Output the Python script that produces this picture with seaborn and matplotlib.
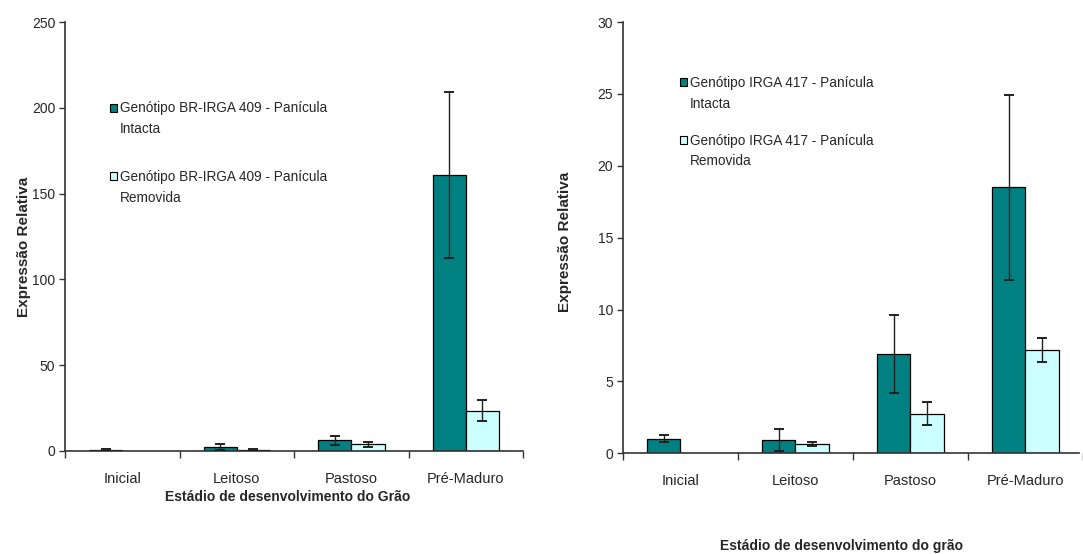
import matplotlib
matplotlib.use("Agg")
import matplotlib.pyplot as plt
import seaborn as sns
import pandas as pd
import numpy as np
from matplotlib.patches import Patch, Rectangle
from matplotlib.legend_handler import HandlerPatch

sns.set_style("white")
plt.rcParams['font.family'] = ['Liberation Sans', 'DejaVu Sans']

stages = ["Inicial", "Leitoso", "Pastoso", "Pré-Maduro"]

# Left chart: BR-IRGA 409
left_series = ["Genótipo BR-IRGA 409 - Panícula\nIntacta", "Genótipo BR-IRGA 409 - Panícula\nRemovida"]
left_intact = [0.8, 2.3, 6.2, 161.0]
left_intact_err = [0.4, 1.9, 2.6, 48.5]
left_removed = [np.nan, 0.8, 4.0, 23.5]
left_removed_err = [np.nan, 0.3, 1.5, 6.0]

# Right chart: IRGA 417
right_series = ["Genótipo IRGA 417 - Panícula\nIntacta", "Genótipo IRGA 417 - Panícula\nRemovida"]
right_intact = [1.0, 0.9, 6.9, 18.5]
right_intact_err = [0.25, 0.75, 2.7, 6.45]
right_removed = [np.nan, 0.65, 2.75, 7.2]
right_removed_err = [np.nan, 0.15, 0.8, 0.85]

colors = ["#008080", "#CCFFFF"]


def top_patch(legend, orig_handle, xdescent, ydescent, width, height, fontsize):
    return Rectangle((-xdescent, -ydescent + 8.5), width, height)


def draw(ax, series, intact, ierr, removed, rerr, ymax, ystep, xmax):
    df = pd.DataFrame({
        "stage": stages * 2,
        "serie": [series[0]] * 4 + [series[1]] * 4,
        "value": list(intact) + list(removed),
    })
    sns.barplot(data=df, x="stage", y="value", hue="serie", order=stages,
                hue_order=series, palette=colors, saturation=1, width=0.58, gap=0,
                edgecolor="black", linewidth=0.9, errorbar=None, ax=ax,
                legend=False)
    errs = {series[0]: ierr, series[1]: rerr}
    for ci, s in enumerate(series):
        cont = ax.containers[ci]
        for bar in cont:
            xc = bar.get_x() + bar.get_width() / 2
            j = int(round(xc))
            e = errs[s][j]
            if np.isnan(e) or np.isnan(bar.get_height()):
                continue
            ax.errorbar(xc, bar.get_height(), yerr=e, fmt="none", ecolor="#202020",
                        elinewidth=1.0, capsize=3.5, capthick=1.4, zorder=5)
    ax.set_ylim(0, ymax)
    ax.set_xlim(-0.5, xmax)
    ax.set_yticks(np.arange(0, ymax + 0.001, ystep))
    ax.set_xticks([-0.5, 0.5, 1.5, 2.5, 3.5])
    ax.set_xticklabels([])
    ax.set_xticks(range(4), minor=True)
    ax.set_xticklabels(stages, minor=True)
    ax.tick_params(axis="x", which="major", direction="out", length=5, width=1, color="#333333", bottom=True)
    ax.tick_params(axis="x", which="minor", length=0, pad=15, labelsize=10.5)
    ax.tick_params(axis="y", direction="out", length=4, width=1, color="#333333", left=True, labelsize=10, pad=3)
    for sp in ["top", "right"]:
        ax.spines[sp].set_visible(False)
    for sp in ["left", "bottom"]:
        ax.spines[sp].set_color("#333333")
        ax.spines[sp].set_linewidth(1.2)
    ax.set_xlabel("")
    ax.set_ylabel("Expressão Relativa", fontsize=11, fontweight="bold")
    handles = [Patch(facecolor=colors[0], edgecolor="black", linewidth=0.8, label=series[0]),
               Patch(facecolor=colors[1], edgecolor="black", linewidth=0.8, label=series[1])]
    return handles


fig = plt.figure(figsize=(10.83, 5.54), dpi=100)
ax1 = fig.add_axes([0.060, 0.186, 0.423, 0.774])
ax2 = fig.add_axes([0.575, 0.182, 0.425, 0.778])

h1 = draw(ax1, left_series, left_intact, left_intact_err, left_removed, left_removed_err, 250, 50, 3.5)
h2 = draw(ax2, right_series, right_intact, right_intact_err, right_removed, right_removed_err, 30, 5, 3.466)
ax2.spines["bottom"].set_bounds(-0.5, 3.466)
ax1.yaxis.set_label_coords(-0.074, 0.475)
ax2.yaxis.set_label_coords(-0.111, 0.49)

hmap = {Patch: HandlerPatch(patch_func=top_patch)}
leg1 = ax1.legend(handles=h1, loc="upper left", bbox_to_anchor=(0.098, 0.815), frameon=False,
                  fontsize=9.8, handlelength=0.55, handleheight=0.55, handletextpad=0.2,
                  labelspacing=2.5, borderaxespad=0, borderpad=0, handler_map=hmap)
leg2 = ax2.legend(handles=h2, loc="upper left", bbox_to_anchor=(0.124, 0.875), frameon=False,
                  fontsize=9.8, handlelength=0.55, handleheight=0.55, handletextpad=0.2,
                  labelspacing=1.7, borderaxespad=0, borderpad=0, handler_map=hmap)
for leg in (leg1, leg2):
    for t in leg.get_texts():
        t.set_linespacing(1.6)

fig.text(288 / 1083, 1 - 497 / 554, "Estádio de desenvolvimento do Grão", ha="center", va="center",
         fontsize=10, fontweight="bold")
fig.text(842 / 1083, 1 - 546 / 554, "Estádio de desenvolvimento do grão", ha="center", va="center",
         fontsize=10, fontweight="bold")

fig.savefig("out.png", dpi=100)
